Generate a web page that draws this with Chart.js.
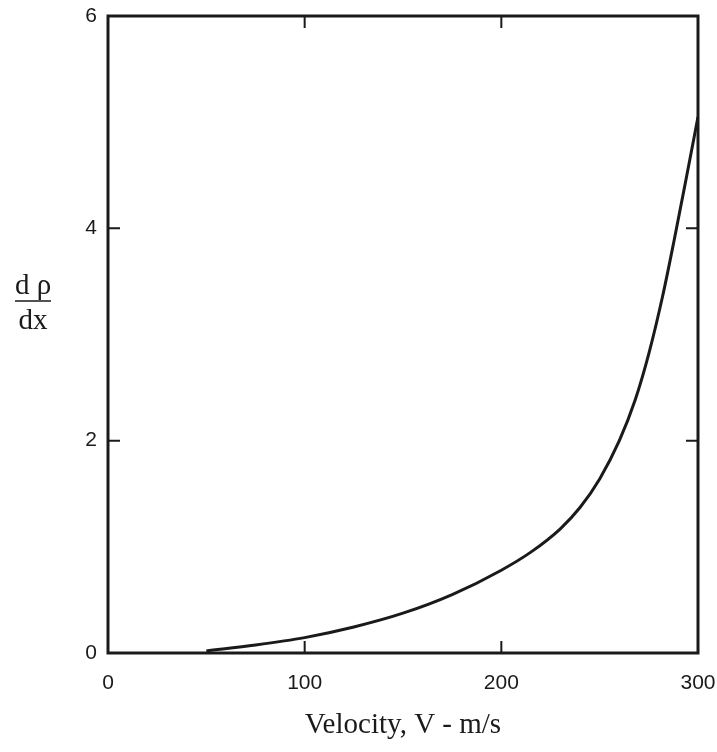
<!DOCTYPE html>
<html>
<head>
<meta charset="utf-8">
<script src="https://cdn.jsdelivr.net/npm/chart.js@4.4.1/dist/chart.umd.min.js"></script>
<style>
html,body{margin:0;padding:0;background:#fff;}
#wrap{width:717px;height:752px;position:relative;}
</style>
</head>
<body>
<div id="wrap"><canvas id="c" width="717" height="752"></canvas></div>
<script>
// Data
const velocity = [50, 75, 100, 125, 150, 175, 200, 215, 230, 240, 250, 260, 268, 275, 282, 288, 294, 300];
const densityGradient = [0.02, 0.075, 0.145, 0.245, 0.375, 0.55, 0.78, 0.95, 1.17, 1.37, 1.64, 2.0, 2.38, 2.82, 3.36, 3.9, 4.47, 5.05];
const xTicks = [0, 100, 200, 300];
const yTicks = [0, 2, 4, 6];
const xTitle = "Velocity, V - m/s";
const yTitleTop = "d \u03C1";
const yTitleBottom = "dx";

const points = velocity.map((v, i) => ({x: v, y: densityGradient[i]}));
const INK = '#1a1a1a';

const inwardTicks = {
  id: 'inwardTicks',
  afterDatasetsDraw(chart) {
    const ctx = chart.ctx;
    const xs = chart.scales.x, ys = chart.scales.y;
    const a = chart.chartArea;
    const len = 12;
    ctx.save();
    ctx.strokeStyle = INK;
    ctx.lineWidth = 2;
    ctx.beginPath();
    xTicks.slice(1, -1).forEach(v => {
      const px = xs.getPixelForValue(v);
      ctx.moveTo(px, a.bottom); ctx.lineTo(px, a.bottom - len);
      ctx.moveTo(px, a.top); ctx.lineTo(px, a.top + len);
    });
    yTicks.slice(1, -1).forEach(v => {
      const py = ys.getPixelForValue(v);
      ctx.moveTo(a.left, py); ctx.lineTo(a.left + len, py);
      ctx.moveTo(a.right, py); ctx.lineTo(a.right - len, py);
    });
    ctx.stroke();
    ctx.lineWidth = 3;
    ctx.strokeRect(a.left, a.top, a.right - a.left, a.bottom - a.top);
    ctx.restore();
  },
  afterDraw(chart) {
    const ctx = chart.ctx;
    const a = chart.chartArea;
    const cx = 33;
    ctx.save();
    ctx.fillStyle = INK;
    ctx.strokeStyle = INK;
    ctx.font = '29px "Liberation Serif", "Times New Roman", serif';
    ctx.textAlign = 'center';
    ctx.textBaseline = 'alphabetic';
    ctx.fillText(yTitleTop, cx, 294);
    ctx.fillText(yTitleBottom, cx, 329);
    ctx.lineWidth = 1.5;
    ctx.beginPath();
    ctx.moveTo(15, 301); ctx.lineTo(51, 301);
    ctx.stroke();
    ctx.fillText(xTitle, (a.left + a.right) / 2, 733);
    ctx.restore();
  }
};

const noPad = (s) => { s.paddingLeft = 0; s.paddingRight = 0; s.paddingTop = 0; s.paddingBottom = 0; };

new Chart(document.getElementById('c'), {
  type: 'scatter',
  data: {
    datasets: [{
      data: points,
      showLine: true,
      borderColor: INK,
      borderWidth: 3,
      pointRadius: 0,
      cubicInterpolationMode: 'monotone',
      fill: false
    }]
  },
  options: {
    responsive: false,
    animation: false,
    events: [],
    layout: {padding: 0},
    plugins: {legend: {display: false}, tooltip: {enabled: false}},
    scales: {
      x: {
        type: 'linear', position: 'bottom', min: 0, max: 300,
        afterFit(s) { s.height = 99; noPad(s); },
        afterBuildTicks(s) { s.ticks = xTicks.map(v => ({value: v})); },
        grid: {display: false, drawTicks: false},
        border: {display: false},
        ticks: {color: INK, padding: 18, font: {family: '"Liberation Sans", Arial, sans-serif', size: 21}}
      },
      y: {
        type: 'linear', position: 'left', min: 0, max: 6,
        afterFit(s) { s.width = 108; noPad(s); },
        afterBuildTicks(s) { s.ticks = yTicks.map(v => ({value: v})); },
        grid: {display: false, drawTicks: false},
        border: {display: false},
        ticks: {color: INK, padding: 11, font: {family: '"Liberation Sans", Arial, sans-serif', size: 21}}
      },
      x2: {
        type: 'linear', position: 'top', min: 0, max: 300,
        afterFit(s) { s.height = 16; noPad(s); },
        grid: {display: false, drawTicks: false},
        border: {display: false},
        ticks: {display: false}
      },
      y2: {
        type: 'linear', position: 'right', min: 0, max: 6,
        afterFit(s) { s.width = 19; noPad(s); },
        grid: {display: false, drawTicks: false},
        border: {display: false},
        ticks: {display: false}
      }
    }
  },
  plugins: [inwardTicks]
});
</script>
</body>
</html>
